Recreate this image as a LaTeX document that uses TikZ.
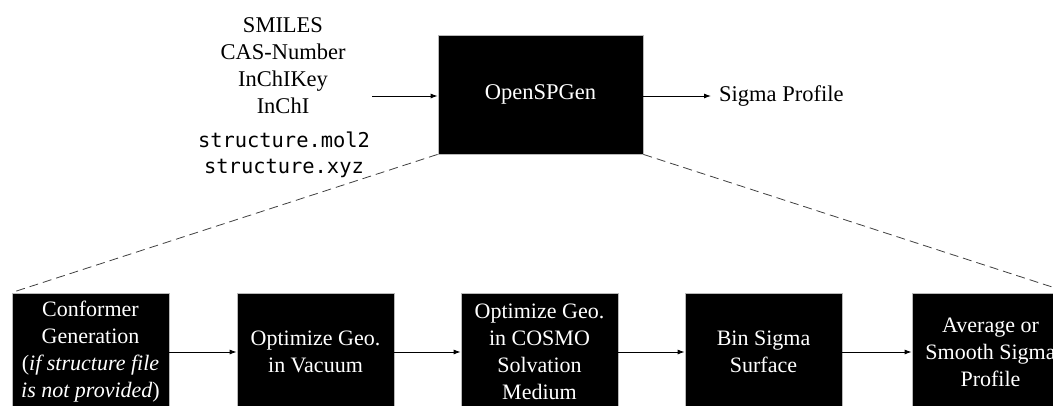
\documentclass[tikz,border=0pt]{standalone}
\usepackage{fontspec}
\setmainfont{Liberation Serif}
\newfontfamily\codefont{DejaVu Sans Mono}
\usetikzlibrary{arrows.meta}
\begin{document}
\begin{tikzpicture}[x=1pt,y=-1pt,
  blackbox/.style={draw=gray!55,line width=0.8pt,fill=black,text=white,
    minimum width=157pt,minimum height=118pt,align=center,inner sep=0pt,
    font=\fontsize{22}{27}\selectfont},
  flow/.style={draw=black,line width=0.9pt,-{Latex[length=7pt,width=5pt]}},
  zoomline/.style={draw=black!75,line width=0.8pt,dash pattern=on 9pt off 5pt},
  plain/.style={align=center,inner sep=0pt,font=\fontsize{22.5}{27}\selectfont}]
\useasboundingbox (0,0) rectangle (1053,405);
\clip (0,0) rectangle (1053,405);

\node[plain] (ids) at (283,66) {SMILES\\CAS-Number\\InChIKey\\InChI};
\node[align=center,inner sep=0pt,font=\codefont\fontsize{20.4}{26}\selectfont] (files) at (284,155) {structure.mol2\\structure.xyz};

\node[blackbox,minimum width=205pt,minimum height=119pt,font=\fontsize{22.5}{27}\selectfont] (open) at (540.5,94.5) {OpenSPGen};
\coordinate (inp) at (372,96);
\draw[flow] (inp) -- (open.west |- inp);
\node[plain,anchor=west,inner ysep=4pt,inner xsep=8pt] (sp) at (711,96) {Sigma Profile};
\draw[flow] (open.east |- sp.west) -- (sp.west);

\node[blackbox] (b1) at (90.5,352) {Conformer\\Generation\\(\textit{if structure file}\\\textit{is not provided})};
\node[blackbox] (b2) at (315.5,352) {Optimize Geo.\\in Vacuum};
\node[blackbox] (b3) at (539.5,352) {Optimize Geo.\\in COSMO\\Solvation\\Medium};
\node[blackbox] (b4) at (763.5,352) {Bin Sigma\\Surface};
\node[blackbox] (b5) at (990.5,352) {Average or\\Smooth Sigma\\Profile};

\draw[flow] (b1) -- (b2);
\draw[flow] (b2) -- (b3);
\draw[flow] (b3) -- (b4);
\draw[flow] (b4) -- (b5);

\draw[zoomline] (open.south west) -- (b1.north west);
\draw[zoomline] (open.south east) -- (b5.north east);
\end{tikzpicture}
\end{document}
